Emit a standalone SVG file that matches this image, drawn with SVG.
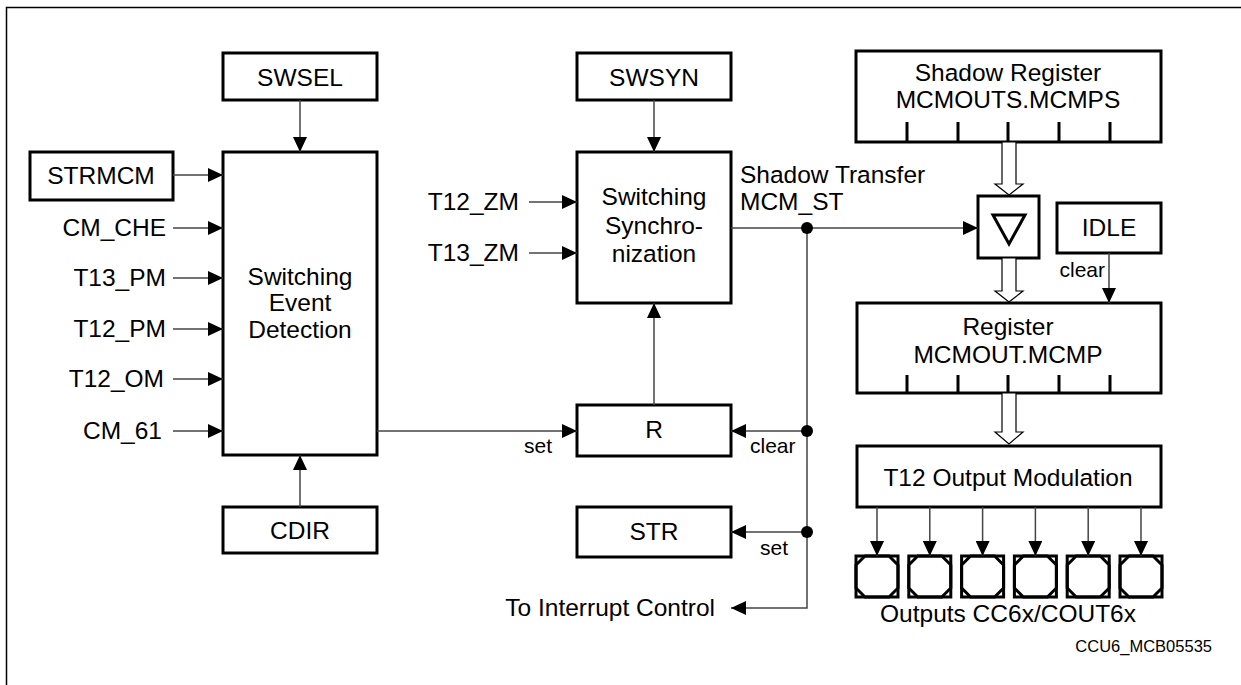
<svg xmlns="http://www.w3.org/2000/svg" width="1241" height="685" viewBox="0 0 1241 685">
<style>
.box{fill:#fff;stroke:#000;stroke-width:3}
.ln{fill:none;stroke:#444;stroke-width:1.5}
.t{font-family:"Liberation Sans",Arial,sans-serif;font-size:24.5px;fill:#000}
.c{text-anchor:middle}
.r{text-anchor:end}
.s{font-family:"Liberation Sans",Arial,sans-serif;font-size:21px;fill:#000}
.hol{fill:#fff;stroke:#000;stroke-width:1.2}
.tick{stroke:#000;stroke-width:3}
.dot{fill:#000}
</style>
<defs>
<marker id="ah" viewBox="0 0 15 14" refX="15" refY="7" markerWidth="15" markerHeight="14" markerUnits="userSpaceOnUse" orient="auto">
<path d="M0,0 L15,7 L0,14 z" fill="#000"/>
</marker>
</defs>
<rect x="0" y="0" width="1241" height="685" fill="#fff"/>
<path d="M6.5,685 V7.5 H1241" fill="none" stroke="#000" stroke-width="1.5"/>

<g id="swsel"><rect class="box" x="223" y="53" width="154" height="47"/><text class="t c" x="300" y="86">SWSEL</text></g>
<g id="event"><rect class="box" x="223" y="152" width="154" height="303"/>
<text class="t c" x="300" y="285">Switching</text><text class="t c" x="300" y="311">Event</text><text class="t c" x="300" y="338">Detection</text></g>
<g id="strmcm"><rect class="box" x="30" y="152" width="143" height="48"/><text class="t c" x="101" y="184">STRMCM</text></g>
<g id="cdir"><rect class="box" x="223" y="507" width="154" height="46"/><text class="t c" x="300" y="539">CDIR</text></g>
<g id="swsyn"><rect class="box" x="577" y="53" width="154" height="47"/><text class="t c" x="654" y="86">SWSYN</text></g>
<g id="sync"><rect class="box" x="577" y="152" width="154" height="151"/>
<text class="t c" x="654" y="205">Switching</text><text class="t c" x="654" y="234">Synchro-</text><text class="t c" x="654" y="262">nization</text></g>
<g id="r"><rect class="box" x="577" y="405" width="154" height="51"/><text class="t c" x="654" y="438">R</text></g>
<g id="str"><rect class="box" x="577" y="507" width="154" height="50"/><text class="t c" x="654" y="540">STR</text></g>
<g id="shadow"><rect class="box" x="856" y="51" width="305" height="91"/>
<text class="t c" x="1008" y="81">Shadow Register</text><text class="t c" x="1008" y="108">MCMOUTS.MCMPS</text>
<path class="tick" d="M907,122V142M958,122V142M1008,122V142M1059,122V142M1110,122V142"/></g>
<g id="gate"><rect class="box" x="978" y="196" width="61" height="62"/>
<path d="M993,215 L1025,215 L1009,244 z" fill="none" stroke="#000" stroke-width="3" stroke-linejoin="miter"/></g>
<g id="idle"><rect class="box" x="1057" y="203" width="104" height="50"/><text class="t c" x="1109" y="236">IDLE</text></g>
<g id="register"><rect class="box" x="857" y="303" width="304" height="90"/>
<text class="t c" x="1008" y="335">Register</text><text class="t c" x="1008" y="363">MCMOUT.MCMP</text>
<path class="tick" d="M907,375V393M958,375V393M1008,375V393M1059,375V393M1110,375V393"/></g>
<g id="mod"><rect class="box" x="857" y="446" width="304" height="61"/><text class="t c" x="1008" y="486">T12 Output Modulation</text></g>
<g id="pads">
<g id="pad1" transform="translate(856,556)"><rect class="box" x="0" y="0" width="42" height="41"/><path d="M9,0 H33 L42,9 V32 L33,41 H9 L0,32 V9 z" fill="none" stroke="#000" stroke-width="3"/></g>
<g id="pad2" transform="translate(908.8,556)"><rect class="box" x="0" y="0" width="42" height="41"/><path d="M9,0 H33 L42,9 V32 L33,41 H9 L0,32 V9 z" fill="none" stroke="#000" stroke-width="3"/></g>
<g id="pad3" transform="translate(961.6,556)"><rect class="box" x="0" y="0" width="42" height="41"/><path d="M9,0 H33 L42,9 V32 L33,41 H9 L0,32 V9 z" fill="none" stroke="#000" stroke-width="3"/></g>
<g id="pad4" transform="translate(1014.4,556)"><rect class="box" x="0" y="0" width="42" height="41"/><path d="M9,0 H33 L42,9 V32 L33,41 H9 L0,32 V9 z" fill="none" stroke="#000" stroke-width="3"/></g>
<g id="pad5" transform="translate(1067.2,556)"><rect class="box" x="0" y="0" width="42" height="41"/><path d="M9,0 H33 L42,9 V32 L33,41 H9 L0,32 V9 z" fill="none" stroke="#000" stroke-width="3"/></g>
<g id="pad6" transform="translate(1120,556)"><rect class="box" x="0" y="0" width="42" height="41"/><path d="M9,0 H33 L42,9 V32 L33,41 H9 L0,32 V9 z" fill="none" stroke="#000" stroke-width="3"/></g>
</g>

<g id="labels">
<text class="t r" x="166" y="236">CM_CHE</text>
<text class="t r" x="166" y="286">T13_PM</text>
<text class="t r" x="166" y="337">T12_PM</text>
<text class="t r" x="164" y="387">T12_OM</text>
<text class="t r" x="162" y="439">CM_61</text>
<text class="t r" x="519" y="210">T12_ZM</text>
<text class="t r" x="519" y="261">T13_ZM</text>
<text class="t" x="740" y="183">Shadow Transfer</text>
<text class="t" x="740" y="210">MCM_ST</text>
<text class="s" x="524" y="453">set</text>
<text class="s" x="750" y="453">clear</text>
<text class="s" x="760" y="555">set</text>
<text class="s r" x="1105" y="277">clear</text>
<text class="t r" x="715" y="616">To  Interrupt Control</text>
<text class="t c" x="1008" y="622">Outputs CC6x/COUT6x</text>
<text x="1212" y="652" text-anchor="end" font-family="'Liberation Sans',Arial,sans-serif" font-size="16.5">CCU6_MCB05535</text>
</g>

<g id="connectors">
<path class="ln" d="M300,100 V152" marker-end="url(#ah)"/>
<path class="ln" d="M173,175 H223" marker-end="url(#ah)"/>
<path class="ln" d="M173,228 H223" marker-end="url(#ah)"/>
<path class="ln" d="M173,278 H223" marker-end="url(#ah)"/>
<path class="ln" d="M173,329 H223" marker-end="url(#ah)"/>
<path class="ln" d="M173,379 H223" marker-end="url(#ah)"/>
<path class="ln" d="M173,431 H223" marker-end="url(#ah)"/>
<path class="ln" d="M300,507 V455" marker-end="url(#ah)"/>
<path class="ln" d="M654,100 V152" marker-end="url(#ah)"/>
<path class="ln" d="M529,202 H577" marker-end="url(#ah)"/>
<path class="ln" d="M529,253 H577" marker-end="url(#ah)"/>
<path class="ln" d="M377,431 H577" marker-end="url(#ah)"/>
<path class="ln" d="M654,405 V303" marker-end="url(#ah)"/>
<path class="ln" d="M731,228 H978" marker-end="url(#ah)"/>
<path class="ln" d="M807,228 V608 H731" marker-end="url(#ah)"/>
<path class="ln" d="M807,431 H731" marker-end="url(#ah)"/>
<path class="ln" d="M807,532 H731" marker-end="url(#ah)"/>
<circle class="dot" cx="807" cy="228" r="6"/>
<circle class="dot" cx="807" cy="431" r="6"/>
<circle class="dot" cx="807" cy="532" r="6"/>
<path class="ln" d="M1109,253 V303" marker-end="url(#ah)"/>
<polygon class="hol" points="1002,142 1016,142 1016,184 1023,184 1009,195 995,184 1002,184"/>
<polygon class="hol" points="1002,258 1016,258 1016,291 1023,291 1009,302 995,291 1002,291"/>
<polygon class="hol" points="1002,393 1016,393 1016,432 1023,432 1009,444 995,432 1002,432"/>
<path class="ln" d="M877,507 V556" marker-end="url(#ah)"/>
<path class="ln" d="M929.8,507 V556" marker-end="url(#ah)"/>
<path class="ln" d="M982.6,507 V556" marker-end="url(#ah)"/>
<path class="ln" d="M1035.4,507 V556" marker-end="url(#ah)"/>
<path class="ln" d="M1088.2,507 V556" marker-end="url(#ah)"/>
<path class="ln" d="M1141,507 V556" marker-end="url(#ah)"/>
</g>
</svg>
